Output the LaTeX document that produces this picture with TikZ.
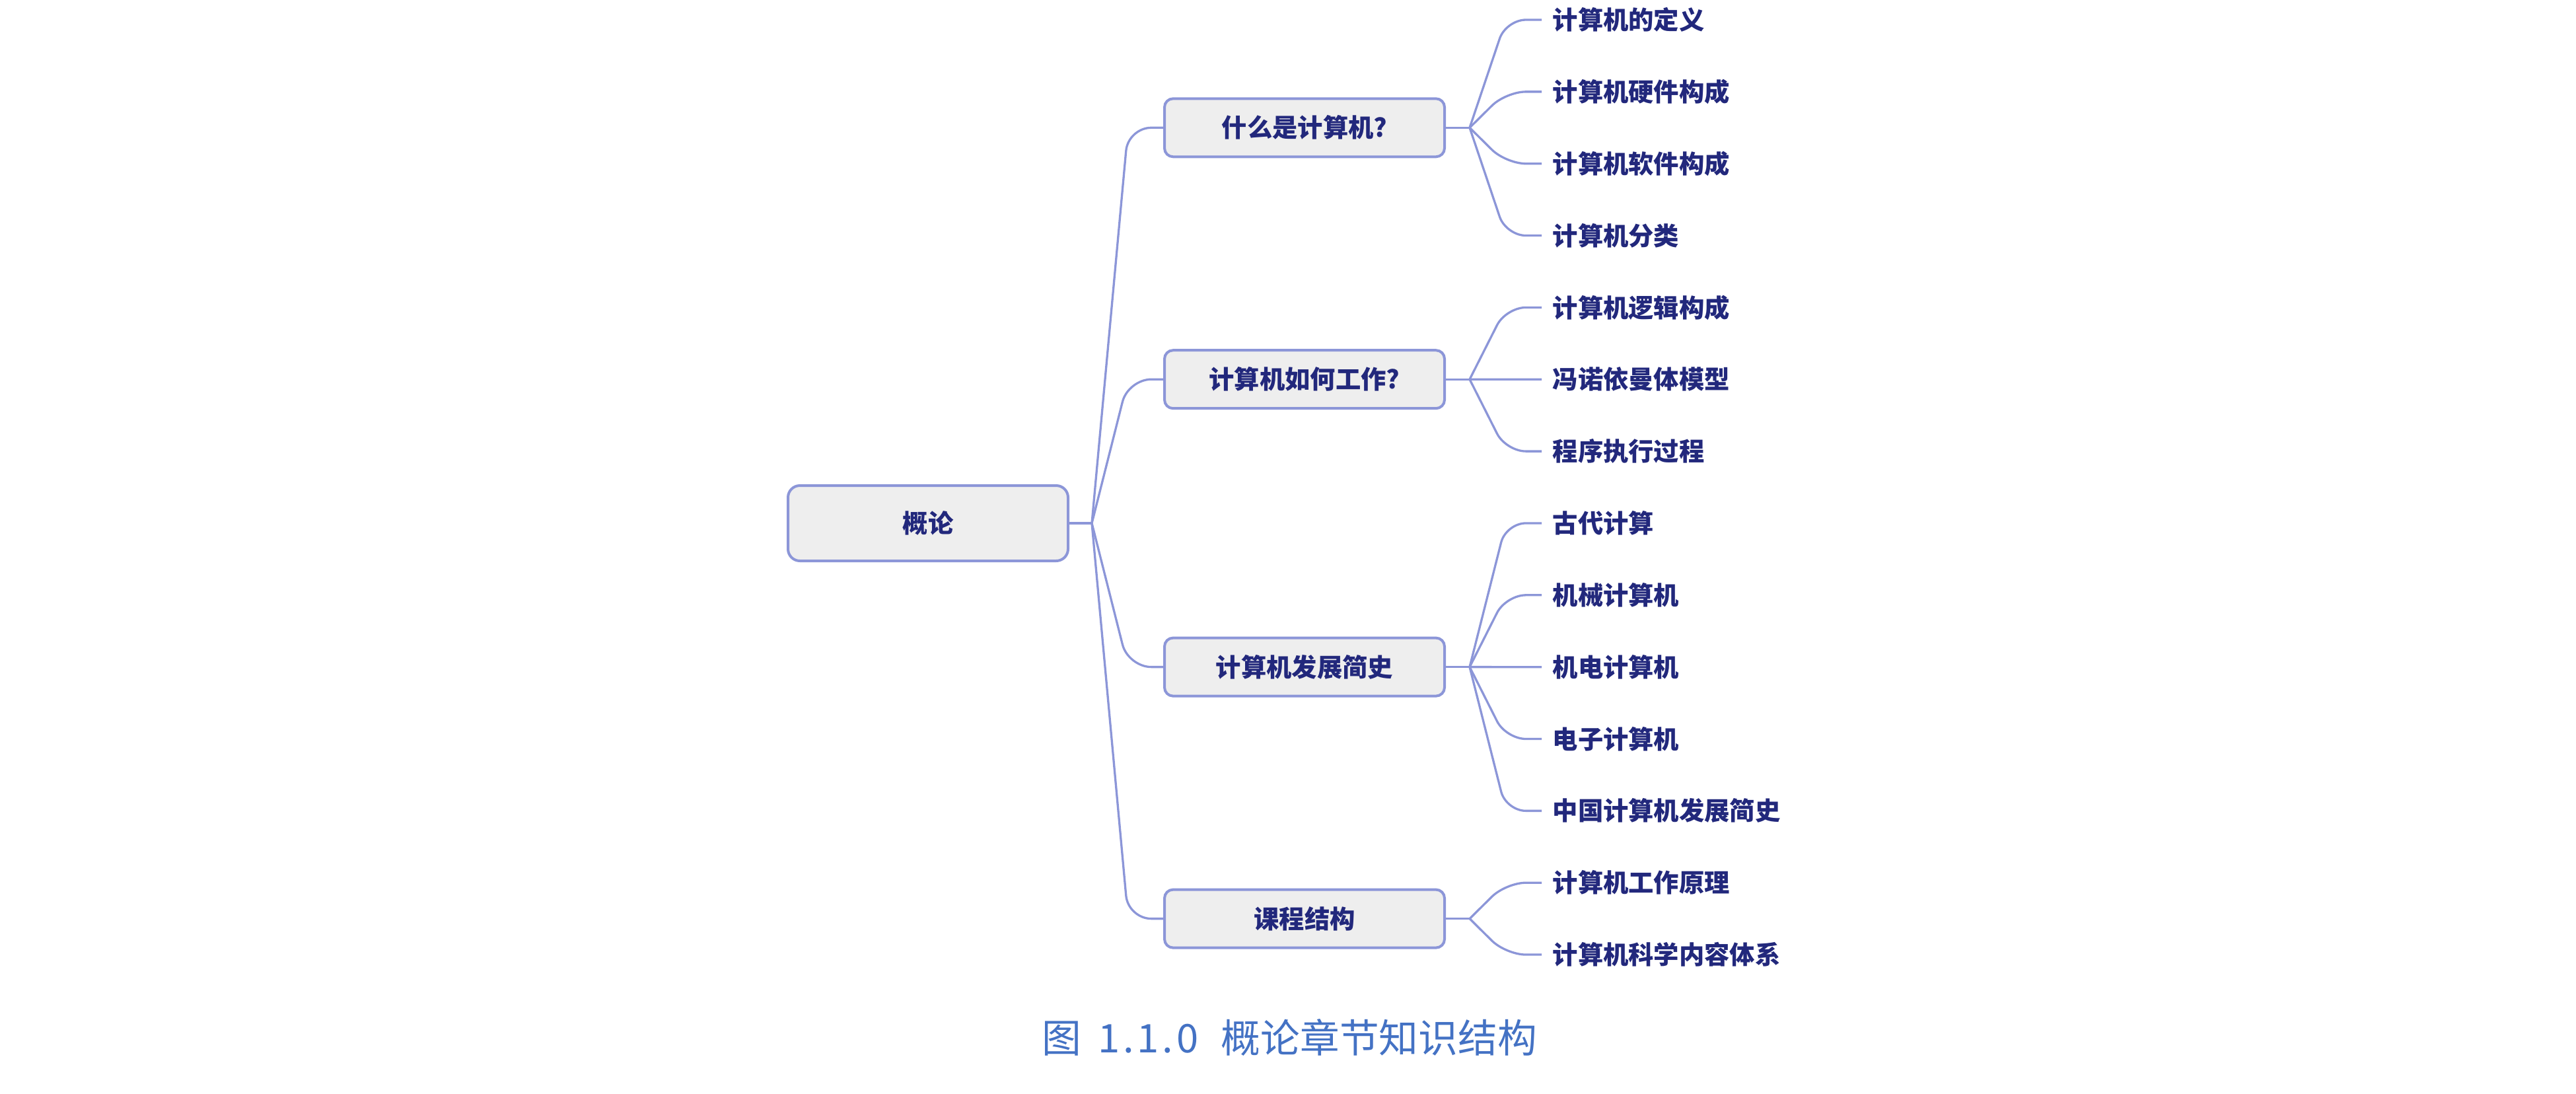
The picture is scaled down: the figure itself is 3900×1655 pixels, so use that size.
\documentclass[tikz,border=0pt]{standalone}
\usepackage{fontspec}
\setmainfont{Noto Sans CJK SC}
\usetikzlibrary{positioning}
\definecolor{inkc}{RGB}{34,40,124}
\definecolor{linec}{RGB}{140,150,216}
\definecolor{boxc}{RGB}{238,238,238}
\definecolor{capc}{RGB}{68,114,196}
\newcommand{\hw}[1]{\makebox[0.5em]{#1}}

\begin{document}
\begin{tikzpicture}[x=0.1mm, y=-0.1mm,
  every node/.style = {text=inkc, font=\fontsize{10.9pt}{13pt}\selectfont\bfseries},
  topic/.style = {shape=rectangle, rounded corners=1.3mm, draw=linec,
    line width=0.4mm, fill=boxc, align=center,
    minimum width=42.4mm, minimum height=8.8mm, inner sep=0pt},
  rootbox/.style = {topic, minimum height=11.4mm, rounded corners=1.8mm},
  leaf/.style = {anchor=west, inner xsep=1.6mm, inner ysep=0pt},
  link/.style = {draw=linec, line width=0.33mm, rounded corners=3mm},
  ]
  \useasboundingbox (0,0) rectangle (3900,1655);
  % root and the four topics
  \node[rootbox] (root) at (1405,792) {概论};
  \node[topic] (q1) at (1975,193.3) {什么是计算机?};
  \node[topic] (q2) at (1975,574.2) {计算机如何工作?};
  \node[topic] (q3) at (1975,1009.6) {计算机发展简史};
  \node[topic] (q4) at (1975,1390.6) {课程结构};
  % leaves, evenly spaced
  \foreach \txt [count=\i from 0] in {计算机的定义, 计算机硬件构成, 计算机软件构成,
      计算机分类, 计算机逻辑构成, 冯诺依曼体模型, 程序执行过程, 古代计算,
      机械计算机, 机电计算机, 电子计算机, 中国计算机发展简史,
      计算机工作原理, 计算机科学内容体系}
    \node[leaf] (l\i) at (2334, {30+108.85*\i}) {\txt};
  % bend columns
  \coordinate (c1) at (1708,0);
  \coordinate (c2) at (2280,0);
  % root to topics
  \coordinate[right=3.4mm of root] (jr);
  \draw[link] (root) -- (jr);
  \foreach \q in {1,...,4}
    \draw[link, rounded corners=3.5mm] (jr) -- (c1 |- q\q) -- (q\q);
  % topics to leaves
  \foreach \q/\a/\b in {1/0/3, 2/4/6, 3/7/11, 4/12/13} {
    \coordinate[right=3.6mm of q\q] (j\q);
    \draw[link] (q\q) -- (j\q);
    \foreach \k in {\a,...,\b}
      \draw[link] (j\q) -- (c2 |- l\k) -- (l\k.west);
  }
  \node[text=capc, font=\fontsize{17pt}{20pt}\selectfont] (cap) at (1952,1570)
    {图\hspace{0.45em}\hw1\hw.\hw1\hw.\hw0\hspace{0.6em}概论章节知识结构};
\end{tikzpicture}
\end{document}
